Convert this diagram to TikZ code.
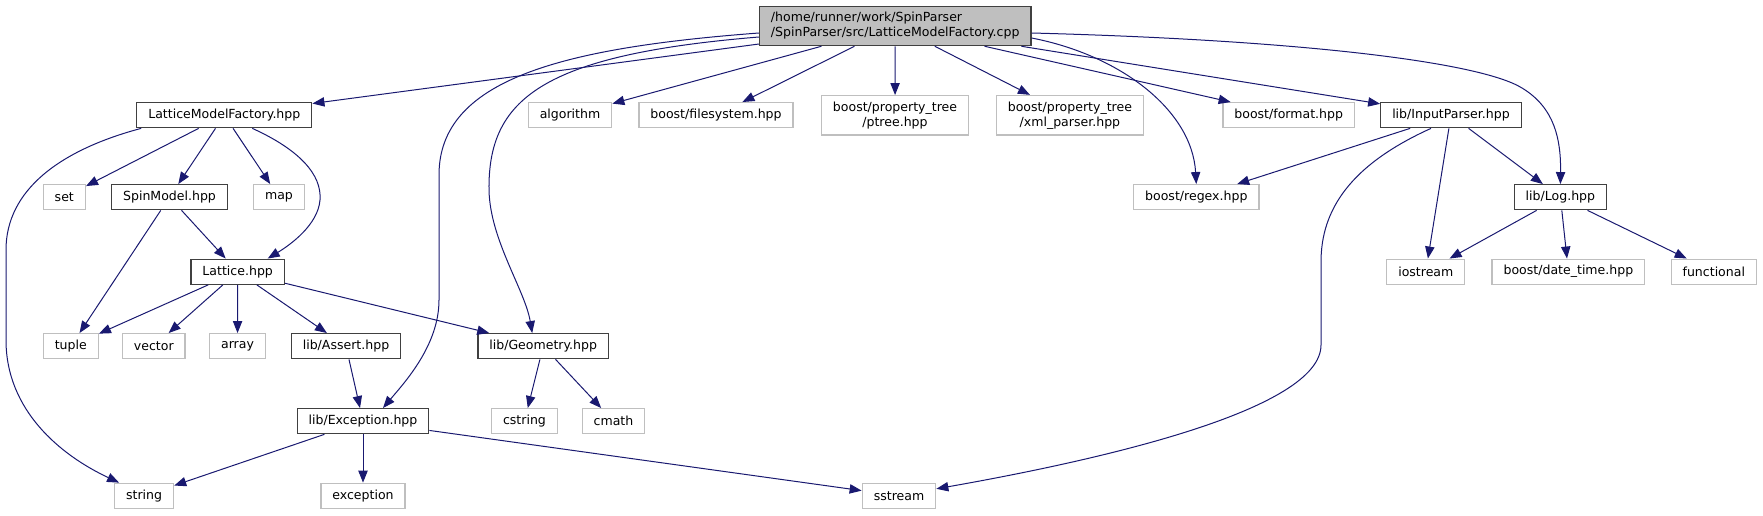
\documentclass[tikz,border=0pt]{standalone}
\usepackage{fontspec}
\setmainfont{DejaVu Sans}
\usetikzlibrary{arrows.meta,calc}

\definecolor{edgeblue}{RGB}{25,25,112}
\definecolor{greyline}{RGB}{191,191,191}
\definecolor{darkline}{RGB}{64,64,64}

\tikzset{every picture/.style={line width=0.75pt}}
\tikzset{
  docnode/.style={draw=darkline, line width=1pt, inner xsep=8.6pt, inner ysep=4.5pt,
    minimum height=18.75pt, font=\fontsize{9.4}{11.3}\selectfont, align=center},
  sysnode/.style={docnode, draw=greyline},
  srcnode/.style={docnode, fill=greyline, align=left},
  incl/.style={draw=edgeblue, -{Triangle[length=9pt,width=7pt]}}
}

\begin{document}
\begin{tikzpicture}[x=0.75pt,y=0.75pt,yscale=-1,xscale=1]
		\useasboundingbox (0,0) rectangle (1763,515);
		
		% Text Node
		\node [srcnode] (cpp) at (895.2,26) {/home/runner/work/SpinParser\\/SpinParser/src/LatticeModelFactory.cpp};
		% Text Node
		\node [docnode] (lmf) at (224.3,115.2) {LatticeModelFactory.hpp};
		% Text Node
		\node [sysnode] (alg) at (570,115.2) {algorithm};
		% Text Node
		\node [sysnode] (fs) at (716,115.2) {boost/filesystem.hpp};
		% Text Node
		\node [sysnode] (ptree) at (895,115.3) {boost/property\_tree\\/ptree.hpp};
		% Text Node
		\node [sysnode] (xml) at (1069.9,115.3) {boost/property\_tree\\/xml\_parser.hpp};
		% Text Node
		\node [sysnode] (fmt) at (1288.7,115.2) {boost/format.hpp};
		% Text Node
		\node [docnode] (ip) at (1451,115.2) {lib/InputParser.hpp};
		% Text Node
		\node [sysnode] (set) at (64.3,197.2) {set};
		% Text Node
		\node [docnode] (spin) at (169.5,197.2) {SpinModel.hpp};
		% Text Node
		\node [sysnode] (map) at (279,197.2) {map};
		% Text Node
		\node [sysnode] (regex) at (1196.3,197.2) {boost/regex.hpp};
		% Text Node
		\node [docnode] (log) at (1560.4,197.2) {lib/Log.hpp};
		% Text Node
		\node [docnode] (lat) at (237.7,271.7) {Lattice.hpp};
		% Text Node
		\node [sysnode] (ios) at (1425.8,271.7) {iostream};
		% Text Node
		\node [sysnode] (dt) at (1568.4,271.7) {boost/date\_time.hpp};
		% Text Node
		\node [sysnode] (func) at (1713.8,271.7) {functional};
		% Text Node
		\node [sysnode] (tuple) at (70.8,346.2) {tuple};
		% Text Node
		\node [sysnode] (vec) at (153.8,346.2) {vector};
		% Text Node
		\node [sysnode] (arr) at (237.5,346.2) {array};
		% Text Node
		\node [docnode] (asrt) at (346,346.2) {lib/Assert.hpp};
		% Text Node
		\node [docnode] (geo) at (543.2,346.2) {lib/Geometry.hpp};
		% Text Node
		\node [docnode] (exc) at (363,421.2) {lib/Exception.hpp};
		% Text Node
		\node [sysnode] (cstr) at (524.5,421.2) {cstring};
		% Text Node
		\node [sysnode] (cmath) at (613.5,421.2) {cmath};
		% Text Node
		\node [sysnode] (str) at (144.1,495.8) {string};
		% Text Node
		\node [sysnode] (excp) at (363,495.8) {exception};
		% Text Node
		\node [sysnode] (ss) at (899,495.8) {sstream};
		
		%Straight Lines
		\draw [incl] (cpp) -- (lmf);
		\draw [incl] (cpp) -- (alg);
		\draw [incl] (cpp) -- (fs);
		\draw [incl] (cpp) -- (ptree);
		\draw [incl] (cpp) -- (xml);
		\draw [incl] (cpp) -- (fmt);
		\draw [incl] (cpp) -- (ip);
		%Curve Lines
		\draw [incl] ($(cpp.west)+(0,7)$) .. controls (560,48) and (439,80) .. (439,175) -- (439,300) .. controls (439,345) and (405,382) .. ($(exc.north)+(20,0)$);
		\draw [incl] ($(cpp.west)+(0,11)$) .. controls (540,55) and (488,100) .. (489,190) .. controls (490,240) and (525,290) .. ($(geo.north)+(-11,0)$);
		\draw [incl] ($(cpp.east)+(0,12)$) .. controls (1120,55) and (1192,110) .. (regex.north);
		\draw [incl] ($(cpp.east)+(0,7)$) .. controls (1300,40) and (1480,62) .. (1522,88) .. controls (1555,108) and (1561,140) .. (log.north);
		
		%Straight Lines
		\draw [incl] (lmf) -- (set);
		\draw [incl] (lmf) -- (spin);
		\draw [incl] (lmf) -- (map);
		%Curve Lines
		\draw [incl] ($(lmf.south west)+(5,0)$) .. controls (60,150) and (6,190) .. (6,250) -- (6,340) .. controls (6,410) and (60,455) .. ($(str.north)+(-25,0)$);
		\draw [incl] ($(lmf.south)+(28,0)$) .. controls (300,150) and (322,175) .. (320,200) .. controls (318,225) and (290,245) .. ($(lat.north)+(30,0)$);
		
		%Straight Lines
		\draw [incl] (spin) -- (tuple);
		\draw [incl] (spin) -- (lat);
		\draw [incl] (lat) -- (tuple);
		\draw [incl] (lat) -- (vec);
		\draw [incl] (lat) -- (arr);
		\draw [incl] (lat) -- (asrt);
		\draw [incl] (lat) -- (geo);
		\draw [incl] (asrt) -- (exc);
		\draw [incl] (geo) -- (cstr);
		\draw [incl] (geo) -- (cmath);
		\draw [incl] (exc) -- (str);
		\draw [incl] (exc) -- (excp);
		\draw [incl] (exc) -- (ss);
		
		\draw [incl] (ip) -- (regex);
		\draw [incl] (ip) -- (ios);
		\draw [incl] (ip) -- (log);
		%Curve Lines
		\draw [incl] ($(ip.south)+(-20,0)$) .. controls (1350,165) and (1321,210) .. (1321,262) -- (1321,345) .. controls (1321,410) and (1100,460) .. ($(ss.east)+(0,-7)$);
		
		\draw [incl] (log) -- (ios);
		\draw [incl] (log) -- (dt);
		\draw [incl] (log) -- (func);
		
	\end{tikzpicture}
\end{document}
